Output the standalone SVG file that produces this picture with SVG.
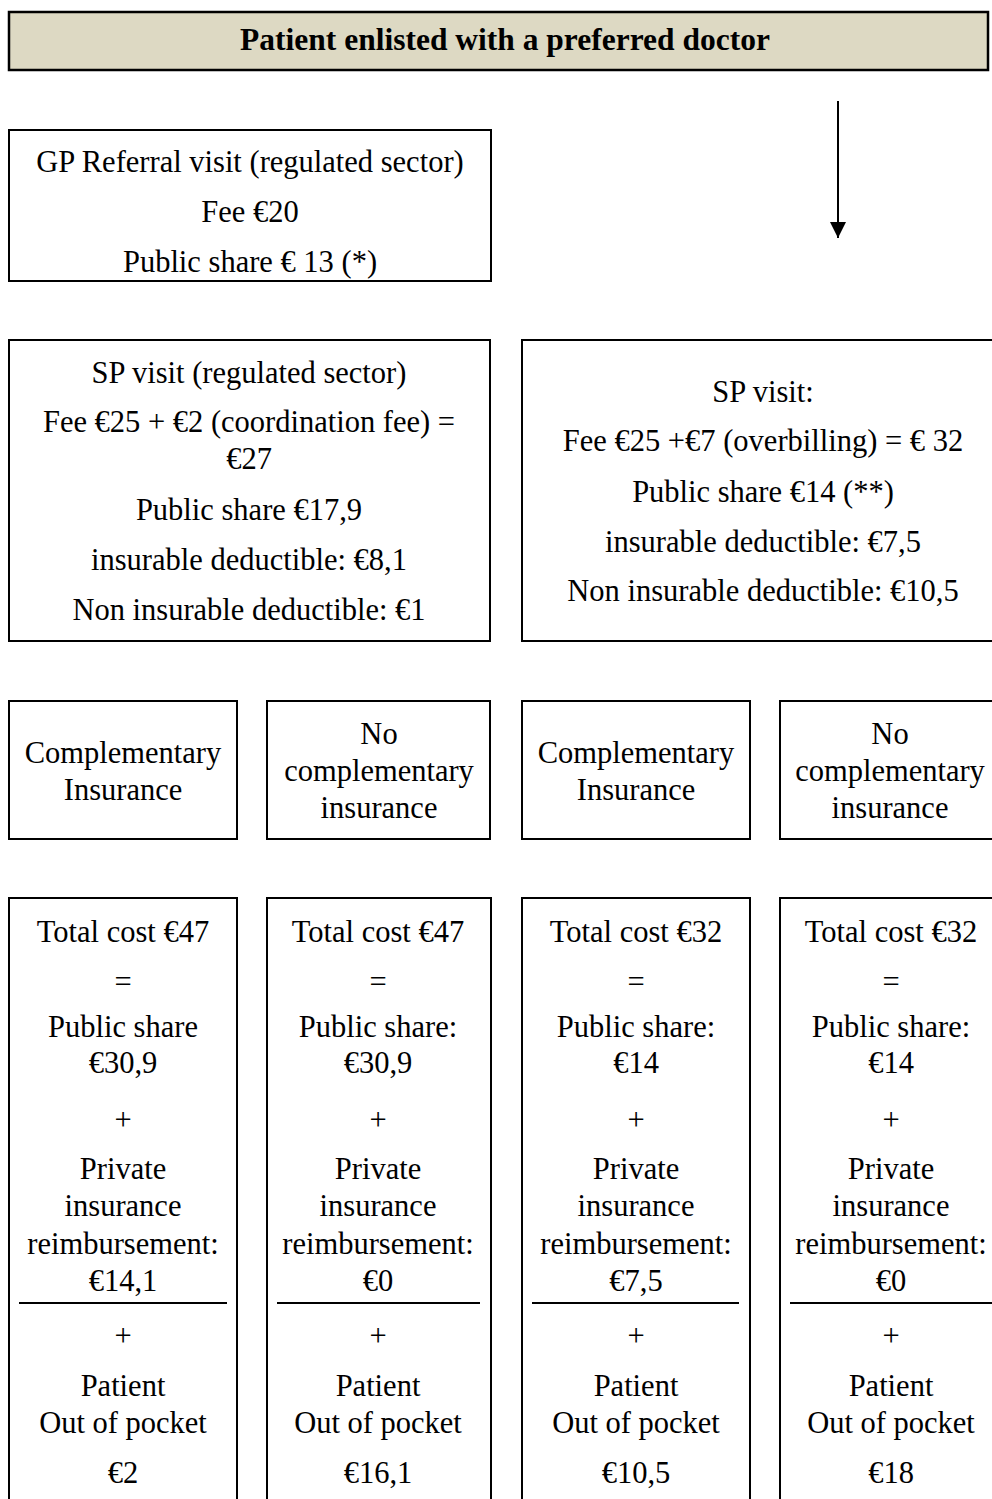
<svg xmlns="http://www.w3.org/2000/svg" width="992" height="1499" viewBox="0 0 992 1499">
<style>
.box{fill:#ffffff;stroke:#000000;stroke-width:2}
.banner{fill:#DDD9C3;stroke:#000000;stroke-width:2.5}
.t{font-family:"Liberation Serif","Times New Roman",serif;font-size:30.5px;fill:#000000;text-anchor:middle}
.b{font-weight:bold;font-size:31.5px}
.rule{stroke:#000000;stroke-width:2}
.conn{stroke:#000000;stroke-width:2;fill:none}
</style>
<defs>
<marker id="arrow" markerWidth="16" markerHeight="16" refX="16" refY="8" orient="auto" markerUnits="userSpaceOnUse" viewBox="0 0 16 16">
<path d="M0,0 L16,8 L0,16 Z" fill="#000000"/>
</marker>
</defs>
<rect width="992" height="1499" fill="#ffffff"/>

<g id="title">
<rect class="banner" x="9" y="12" width="979" height="58"/>
<text class="t b" x="505" y="50">Patient enlisted with a preferred doctor</text>
</g>

<g id="gp-visit">
<rect class="box" x="9" y="130" width="482" height="151"/>
<text class="t" x="250" y="172">GP Referral visit (regulated sector)</text>
<text class="t" x="250" y="222">Fee €20</text>
<text class="t" x="250" y="272">Public share € 13 (*)</text>
</g>

<g id="sp-regulated">
<rect class="box" x="9" y="340" width="481" height="301"/>
<text class="t" x="249" y="383">SP visit (regulated sector)</text>
<text class="t" x="249" y="432">Fee €25 + €2 (coordination fee) =</text>
<text class="t" x="249" y="469">€27</text>
<text class="t" x="249" y="520">Public share €17,9</text>
<text class="t" x="249" y="570">insurable deductible: €8,1</text>
<text class="t" x="249" y="620">Non insurable deductible: €1</text>
</g>

<g id="sp-overbilling">
<rect class="box" x="522" y="340" width="482" height="301"/>
<text class="t" x="763" y="402">SP visit:</text>
<text class="t" x="763" y="451">Fee €25 +€7 (overbilling) = € 32</text>
<text class="t" x="763" y="502">Public share €14 (**)</text>
<text class="t" x="763" y="552">insurable deductible: €7,5</text>
<text class="t" x="763" y="601">Non insurable deductible: €10,5</text>
</g>

<g id="ins-1">
<rect class="box" x="9" y="701" width="228" height="138"/>
<text class="t" x="123" y="763">Complementary</text>
<text class="t" x="123" y="800">Insurance</text>
</g>
<g id="noins-1">
<rect class="box" x="267" y="701" width="223" height="138"/>
<text class="t" x="379" y="744">No</text>
<text class="t" x="379" y="781">complementary</text>
<text class="t" x="379" y="818">insurance</text>
</g>
<g id="ins-2">
<rect class="box" x="522" y="701" width="228" height="138"/>
<text class="t" x="636" y="763">Complementary</text>
<text class="t" x="636" y="800">Insurance</text>
</g>
<g id="noins-2">
<rect class="box" x="780" y="701" width="222" height="138"/>
<text class="t" x="890" y="744">No</text>
<text class="t" x="890" y="781">complementary</text>
<text class="t" x="890" y="818">insurance</text>
</g>

<g id="total-1">
<rect class="box" x="9" y="898" width="228" height="620"/>
<text class="t" x="123" y="942">Total cost €47</text>
<text class="t" x="123" y="992">=</text>
<text class="t" x="123" y="1037">Public share</text>
<text class="t" x="123" y="1073">€30,9</text>
<text class="t" x="123" y="1130">+</text>
<text class="t" x="123" y="1179">Private</text>
<text class="t" x="123" y="1216">insurance</text>
<text class="t" x="123" y="1254">reimbursement:</text>
<text class="t" x="123" y="1291">€14,1</text>
<line class="rule" x1="19" y1="1303" x2="227" y2="1303"/>
<text class="t" x="123" y="1346">+</text>
<text class="t" x="123" y="1396">Patient</text>
<text class="t" x="123" y="1433">Out of pocket</text>
<text class="t" x="123" y="1483">€2</text>
</g>

<g id="total-2">
<rect class="box" x="267" y="898" width="224" height="620"/>
<text class="t" x="378" y="942">Total cost €47</text>
<text class="t" x="378" y="992">=</text>
<text class="t" x="378" y="1037">Public share:</text>
<text class="t" x="378" y="1073">€30,9</text>
<text class="t" x="378" y="1130">+</text>
<text class="t" x="378" y="1179">Private</text>
<text class="t" x="378" y="1216">insurance</text>
<text class="t" x="378" y="1254">reimbursement:</text>
<text class="t" x="378" y="1291">€0</text>
<line class="rule" x1="277" y1="1303" x2="480" y2="1303"/>
<text class="t" x="378" y="1346">+</text>
<text class="t" x="378" y="1396">Patient</text>
<text class="t" x="378" y="1433">Out of pocket</text>
<text class="t" x="378" y="1483">€16,1</text>
</g>

<g id="total-3">
<rect class="box" x="522" y="898" width="228" height="620"/>
<text class="t" x="636" y="942">Total cost €32</text>
<text class="t" x="636" y="992">=</text>
<text class="t" x="636" y="1037">Public share:</text>
<text class="t" x="636" y="1073">€14</text>
<text class="t" x="636" y="1130">+</text>
<text class="t" x="636" y="1179">Private</text>
<text class="t" x="636" y="1216">insurance</text>
<text class="t" x="636" y="1254">reimbursement:</text>
<text class="t" x="636" y="1291">€7,5</text>
<line class="rule" x1="532" y1="1303" x2="739" y2="1303"/>
<text class="t" x="636" y="1346">+</text>
<text class="t" x="636" y="1396">Patient</text>
<text class="t" x="636" y="1433">Out of pocket</text>
<text class="t" x="636" y="1483">€10,5</text>
</g>

<g id="total-4">
<rect class="box" x="780" y="898" width="222" height="620"/>
<text class="t" x="891" y="942">Total cost €32</text>
<text class="t" x="891" y="992">=</text>
<text class="t" x="891" y="1037">Public share:</text>
<text class="t" x="891" y="1073">€14</text>
<text class="t" x="891" y="1130">+</text>
<text class="t" x="891" y="1179">Private</text>
<text class="t" x="891" y="1216">insurance</text>
<text class="t" x="891" y="1254">reimbursement:</text>
<text class="t" x="891" y="1291">€0</text>
<line class="rule" x1="790" y1="1303" x2="1000" y2="1303"/>
<text class="t" x="891" y="1346">+</text>
<text class="t" x="891" y="1396">Patient</text>
<text class="t" x="891" y="1433">Out of pocket</text>
<text class="t" x="891" y="1483">€18</text>
</g>

<g id="connectors">
<line class="conn" x1="838" y1="101" x2="838" y2="238" marker-end="url(#arrow)"/>
</g>
</svg>
